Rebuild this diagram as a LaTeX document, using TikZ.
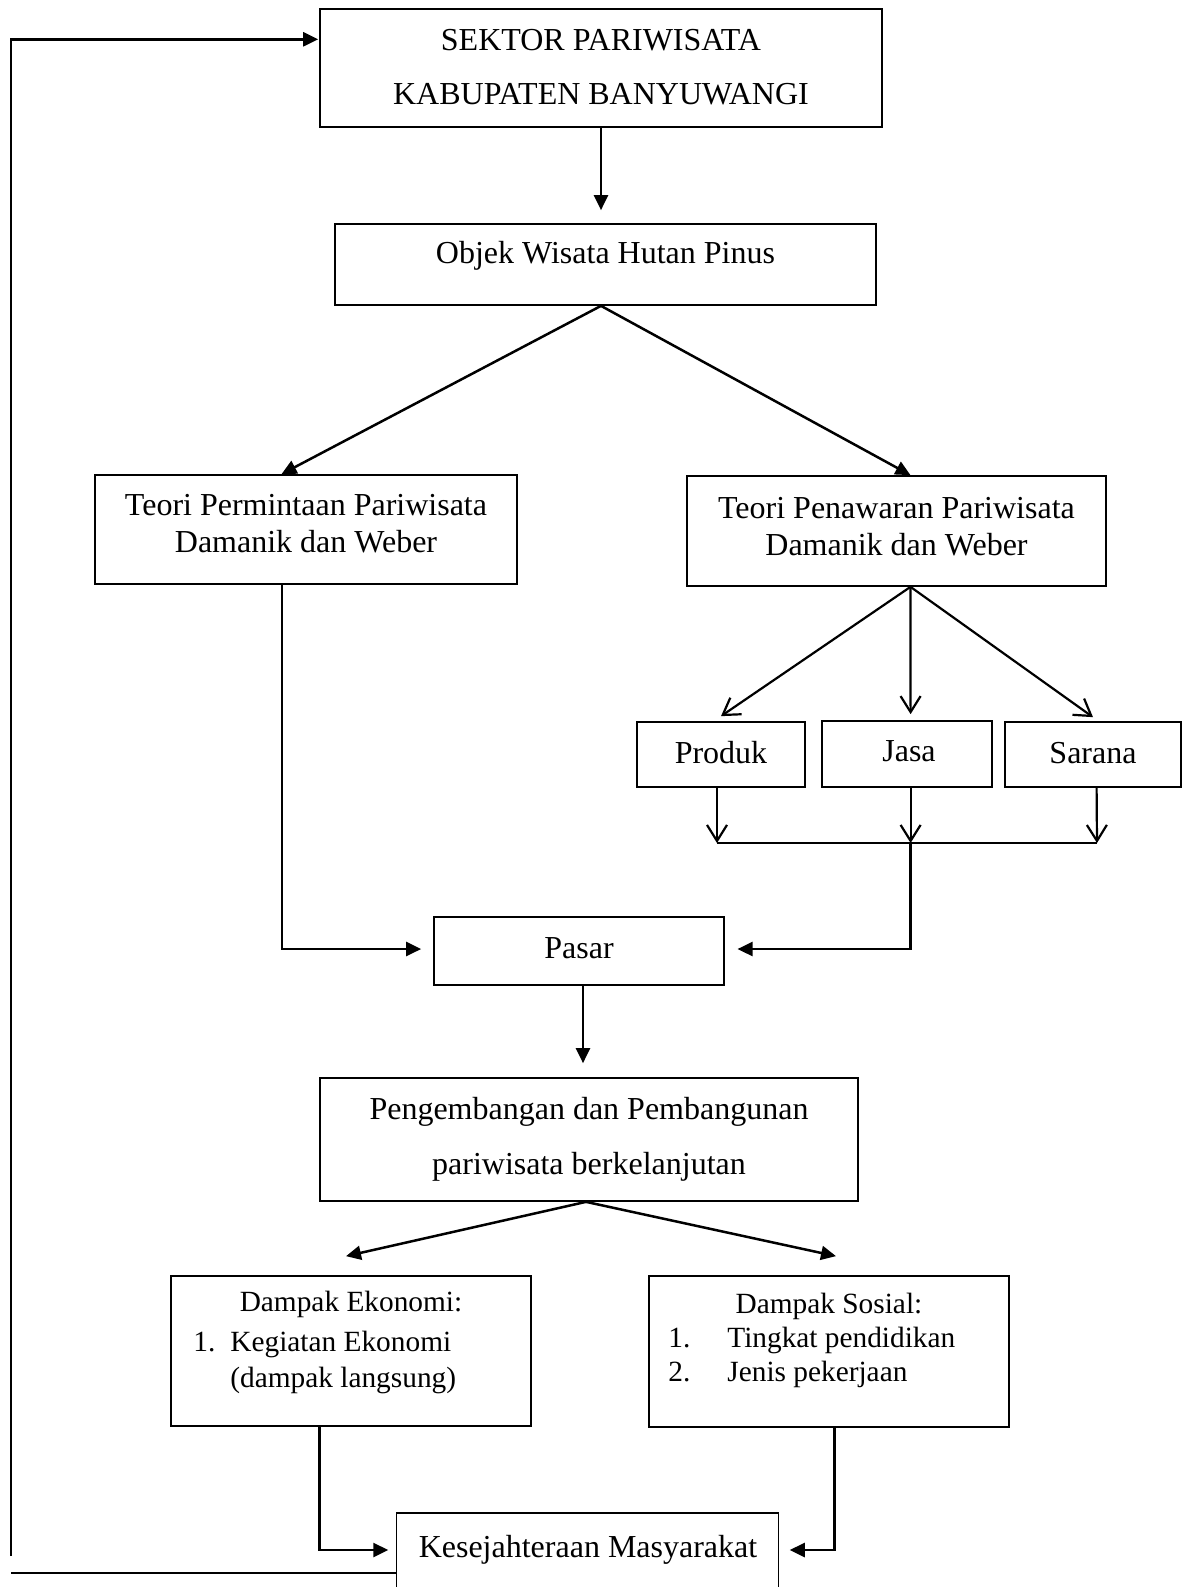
\documentclass[tikz,border=0pt]{standalone}
\usepackage{fontspec}
\setmainfont{Liberation Serif}
\usetikzlibrary{arrows.meta,calc}
\begin{document}
\begin{tikzpicture}[x=0.5pt,y=-0.5pt,
  box/.style={draw, line width=0.85pt, fill=white, inner sep=0pt},
  txt/.style={inner sep=0pt, anchor=base, font=\fontsize{16}{19}\selectfont},
  stxt/.style={inner sep=0pt, anchor=base, font=\fontsize{14.67}{17}\selectfont},
  sltxt/.style={inner sep=0pt, anchor=base west, font=\fontsize{14.67}{17}\selectfont},
  conn/.style={line width=1.25pt, -{Triangle[length=7.5pt,width=7pt]}},
  barb/.style={line width=1.1pt, -{Straight Barb[length=8pt,width=10pt]}},
  plainline/.style={line width=1.25pt}]
\useasboundingbox (0,0) rectangle (1184,1587);
\clip (0,0) rectangle (1184,1587);

% boxes
\node[box, minimum width=281pt, minimum height=59pt] (b1) at (601,68) {};
\node[box, minimum width=270.5pt, minimum height=40.5pt] (b2) at (605.5,264.5) {};
\node[box, minimum width=211pt, minimum height=54.5pt] (tL) at (306,529.5) {};
\node[box, minimum width=209.5pt, minimum height=55pt] (tR) at (896.5,531) {};
\node[box, minimum width=84pt, minimum height=32.5pt] (pr) at (721,754.5) {};
\node[box, minimum width=85pt, minimum height=33pt] (ja) at (907,754) {};
\node[box, minimum width=88pt, minimum height=32.5pt] (sa) at (1093,754.5) {};
\node[box, minimum width=145pt, minimum height=34pt] (pa) at (579,951) {};
\node[box, minimum width=269pt, minimum height=61.5pt] (pe) at (589,1139.5) {};
\node[box, minimum width=180pt, minimum height=75pt] (ek) at (351,1351) {};
\node[box, minimum width=180pt, minimum height=75.5pt] (so) at (829,1351.5) {};
\node[box, minimum width=191pt, minimum height=43.5pt] (ke) at (587.6,1556.5) {};

% texts
\node[txt] (t1a) at (601,50) {SEKTOR PARIWISATA};
\node[txt] (t1b) at (601,104) {KABUPATEN BANYUWANGI};
\node[txt] (t2) at (605.5,263) {Objek Wisata Hutan Pinus};
\node[txt] (t3a) at (306,515) {Teori Permintaan Pariwisata};
\node[txt] (t3b) at (306,552) {Damanik dan Weber};
\node[txt] (t4a) at (896.5,518) {Teori Penawaran Pariwisata};
\node[txt] (t4b) at (896.5,555) {Damanik dan Weber};
\node[txt] (t5) at (721,763) {Produk};
\node[txt] (t6) at (909,761) {Jasa};
\node[txt] (t7) at (1093,763) {Sarana};
\node[txt] (t8) at (579,958) {Pasar};
\node[txt] (t9a) at (589,1119) {Pengembangan dan Pembangunan};
\node[txt] (t9b) at (589,1174) {pariwisata berkelanjutan};
\node[stxt] (t10) at (351,1311) {Dampak Ekonomi:};
\node[sltxt] (t10n) at (193,1351) {1.};
\node[sltxt] (t10a) at (230,1351) {Kegiatan Ekonomi};
\node[sltxt] (t10b) at (230,1387) {(dampak langsung)};
\node[stxt] (t11) at (829,1313) {Dampak Sosial:};
\node[sltxt] (t11n) at (668,1347) {1.};
\node[sltxt] (t11a) at (727,1347) {Tingkat pendidikan};
\node[sltxt] (t11m) at (668,1381) {2.};
\node[sltxt] (t11b) at (727,1381) {Jenis pekerjaan};
\node[txt] (t12) at (588,1557) {Kesejahteraan Masyarakat};

% coordinates
\coordinate (f0) at ($(b2.south)+(-4.5,0)$);
\coordinate (f1) at ($(tR.south)+(14,0)$);
\coordinate (f2) at ($(pe.south)+(-3,0)$);
\coordinate (busL) at (717,843);
\coordinate (busM) at (910.6,843);
\coordinate (busR) at (1097,843);
\coordinate (fbB) at (11,1573);
\coordinate (fbT) at (11,1556);

% connectors
\draw[conn] (b1.south) -- ($(b1.south |- b2.north)+(0,-13)$);
\draw[conn] (f0) -- ($(tL.north)+(-24.5,0)$);
\draw[conn] (f0) -- ($(tR.north)+(14,0)$);
\draw[conn] ($(tL.south)+(-24,0)$) |- ($(pa.west)+(-12,-2)$);
\draw[barb] (f1) -- ($(pr.north)+(0,-5)$);
\draw[barb] (f1) -- ($(ja.north)+(3.6,-6)$);
\draw[barb] (f1) -- ($(sa.north)+(0,-4)$);
\draw[barb] ($(pr.south)+(-4,0)$) -- (busL);
\draw[barb] ($(ja.south)+(3.6,0)$) -- (busM);
\draw[barb] ($(sa.south)+(3.6,0)$) -- (busR);
\draw[plainline] (busL) -- (busR);
\draw[conn] (busM) |- ($(pa.east)+(12.7,-2)$);
\draw[conn] ($(pa.south)+(4,0)$) -- ($(pa.south |- pe.north)+(4,-14)$);
\draw[conn] (f2) -- ($(ek.north)+(-5,-19)$);
\draw[conn] (f2) -- ($(so.north)+(7,-19)$);
\draw[conn] ($(ek.south)+(-31.5,0)$) |- ($(ke.west)+(-7.5,-6.5)$);
\draw[conn] ($(so.south)+(5.6,0)$) |- ($(ke.east)+(10.3,-6.5)$);
\draw[plainline] ($(ke.west)+(0,16.5)$) -- (fbB);
\draw[conn] (fbT) |- ($(b1.west)+(-1,-28.7)$);
\end{tikzpicture}
\end{document}
